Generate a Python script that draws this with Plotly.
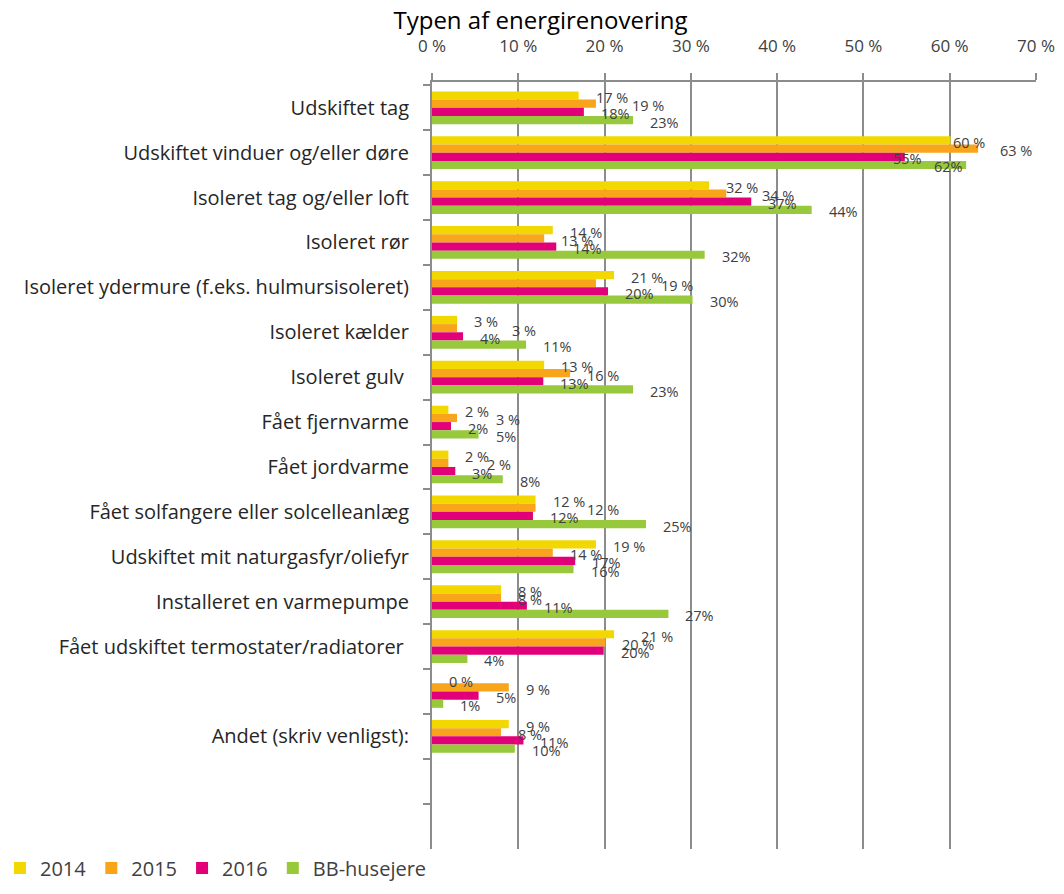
import plotly.graph_objects as go

# ---------------- data ----------------
categories = [
    "Udskiftet tag",
    "Udskiftet vinduer og/eller døre",
    "Isoleret tag og/eller loft",
    "Isoleret rør",
    "Isoleret ydermure (f.eks. hulmursisoleret)",
    "Isoleret kælder",
    "Isoleret gulv ",
    "Fået fjernvarme",
    "Fået jordvarme",
    "Fået solfangere eller solcelleanlæg",
    "Udskiftet mit naturgasfyr/oliefyr",
    "Installeret en varmepumpe",
    "Fået udskiftet termostater/radiatorer ",
    " ",
    "Andet (skriv venligst):",
    "  ",
    "   ",
]

series_names = ["2014", "2015", "2016", "BB-husejere"]

v2014 = [17.0, 60.1, 32.1, 14.0, 21.1, 2.9, 13.0, 1.9, 1.9, 12.0, 19.0, 8.0, 21.1, 0.0, 8.9, None, None]
v2015 = [19.0, 63.3, 34.1, 13.0, 19.0, 2.9, 16.0, 2.9, 1.9, 12.0, 14.0, 8.0, 20.1, 8.9, 8.0, None, None]
v2016 = [17.6, 54.8, 37.0, 14.4, 20.4, 3.6, 12.9, 2.2, 2.7, 11.7, 16.6, 11.0, 19.9, 5.4, 10.6, None, None]
vBB = [23.3, 61.9, 44.0, 31.6, 30.2, 10.9, 23.3, 5.4, 8.2, 24.8, 16.4, 27.4, 4.1, 1.3, 9.6, None, None]

x_ticks = [0, 10, 20, 30, 40, 50, 60, 70]

# ---------------- style ----------------
colors = ["#F2D800", "#F8A51B", "#E2007A", "#98C93C"]
label_fmt = ["{} %", "{} %", "{}%", "{}%"]
FONT = "Open Sans"
TXT = "#404040"
GRID = "#8c8c8c"
BARGAP = 0.27

# extra horizontal nudges (px) for labels that were moved by hand in the original
nudge = {
    (0, 1): 19,
    (1, 0): -15, (1, 1): 5, (1, 2): -29, (1, 3): -49,
    (2, 1): 19,
    (4, 1): 48,
    (5, 1): 38,
    (7, 1): 22,
    (8, 1): 22,
    (9, 1): 34,
    (12, 0): 10,
}

all_values = [v2014, v2015, v2016, vBB]

fig = go.Figure()
for name, vals, col in zip(series_names, all_values, colors):
    fig.add_trace(go.Bar(
        y=categories, x=vals, name=name, orientation="h",
        marker=dict(color=col, line=dict(width=0)),
        hoverinfo="x+y+name",
    ))

n = len(series_names)
w = (1 - BARGAP) / n
annotations = []
for k, (vals, fmt) in enumerate(zip(all_values, label_fmt)):
    off = -(1 - BARGAP) / 2 + w * (k + 0.5)
    for i, v in enumerate(vals):
        if v is None:
            continue
        annotations.append(dict(
            x=v, y=i + off, xref="x", yref="y",
            text=fmt.format(int(round(v))), showarrow=False,
            xanchor="left", yanchor="middle",
            xshift=15 + nudge.get((i, k), 0), yshift=-2,
            font=dict(family=FONT, size=14.5, color=TXT),
        ))

fig.update_layout(
    width=1064, height=894,
    paper_bgcolor="white", plot_bgcolor="white",
    margin=dict(l=432, r=28, t=82, b=0),
    barmode="group", bargap=BARGAP, bargroupgap=0,
    font=dict(family=FONT, color=TXT),
    title=dict(text="Typen af energirenovering", x=0.508, xanchor="center",
               xref="container", y=0.977, yref="container", yanchor="middle",
               font=dict(family=FONT, size=24, color="black")),
    legend=dict(orientation="h", xref="container", yref="container",
                x=0.0, y=0.029, xanchor="left", yanchor="middle",
                font=dict(family=FONT, size=20, color=TXT),
                traceorder="normal",
                bgcolor="rgba(0,0,0,0)"),
    annotations=annotations,
    showlegend=True,
)

fig.update_xaxes(
    side="top", range=[0, 70], tickvals=x_ticks,
    ticktext=[f"{t} %" for t in x_ticks],
    showgrid=True, gridcolor=GRID, gridwidth=2,
    showline=True, linecolor=GRID, linewidth=2,
    ticks="outside", ticklen=7, tickcolor=GRID, tickwidth=2,
    ticklabelstandoff=14,
    zeroline=False,
    tickfont=dict(family=FONT, size=17, color=TXT),
)
fig.update_yaxes(
    type="category", categoryorder="array", categoryarray=categories,
    autorange="reversed",
    showline=True, linecolor=GRID, linewidth=2,
    ticks="outside", tickson="boundaries", ticklen=7, tickcolor=GRID, tickwidth=2,
    ticklabelstandoff=17,
    showgrid=False,
    tickfont=dict(family=FONT, size=20, color="#262626"),
)

fig.write_html("out.html", config={"displayModeBar": False},
               post_script="document.body.style.margin='0';")
